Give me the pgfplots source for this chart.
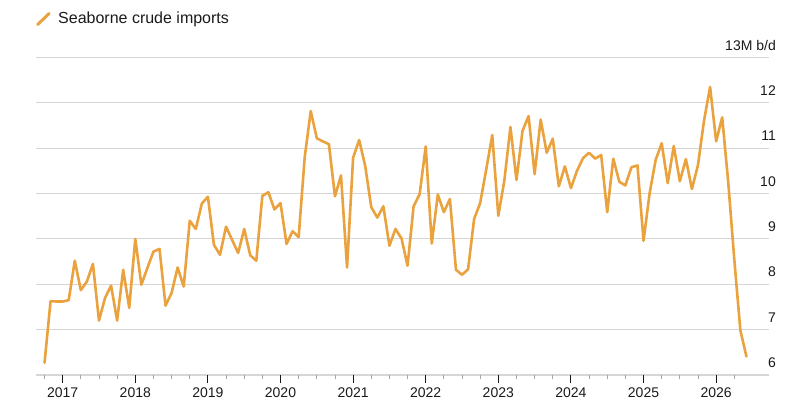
\documentclass[border=0pt]{standalone}
\usepackage{pgfplots}
\pgfplotsset{compat=1.18}
\usepackage{fontspec}
\setmainfont{Liberation Sans}

\definecolor{crude}{RGB}{234,162,62}
\definecolor{gridgray}{RGB}{214,214,214}
\definecolor{txt}{RGB}{26,26,26}

% Monthly seaborne crude imports, million barrels per day.
% x = months since January 2017
\pgfplotstableread{
x    v
-3   6.27
-2   7.63
-1   7.62
0    7.62
1    7.65
2    8.52
3    7.87
4    8.06
5    8.45
6    7.20
7    7.70
8    7.97
9    7.20
10   8.32
11   7.48
12   9.00
13   7.99
14   8.36
15   8.72
16   8.78
17   7.53
18   7.81
19   8.37
20   7.95
21   9.40
22   9.22
23   9.78
24   9.93
25   8.87
26   8.65
27   9.27
28   8.98
29   8.69
30   9.22
31   8.64
32   8.52
33   9.95
34   10.03
35   9.65
36   9.79
37   8.89
38   9.17
39   9.04
40   10.80
41   11.82
42   11.22
43   11.15
44   11.09
45   9.94
46   10.40
47   8.37
48   10.79
49   11.18
50   10.61
51   9.70
52   9.47
53   9.72
54   8.85
55   9.22
56   9.01
57   8.41
58   9.72
59   9.99
60   11.04
61   8.90
62   9.98
63   9.59
64   9.88
65   8.32
66   8.21
67   8.33
68   9.44
69   9.79
70   10.53
71   11.29
72   9.51
73   10.29
74   11.47
75   10.30
76   11.38
77   11.71
78   10.43
79   11.63
80   10.90
81   11.21
82   10.16
83   10.60
84   10.12
85   10.50
86   10.78
87   10.90
88   10.77
89   10.85
90   9.59
91   10.77
92   10.26
93   10.18
94   10.58
95   10.62
96   8.96
97   10.00
98   10.74
99   11.11
100  10.23
101  11.05
102  10.27
103  10.76
104  10.10
105  10.63
106  11.61
107  12.35
108  11.15
109  11.68
110  10.25
111  8.55
112  6.99
113  6.41
}\imports

\begin{document}
\begin{tikzpicture}[x=1bp,y=1bp]
\path[use as bounding box] (0,0) rectangle (800,415);

% legend
\draw[crude, line width=3bp, line cap=round] (37.8,390.5) -- (49,401.5);
\node[anchor=base west, inner sep=0pt, text=txt,
      font=\fontsize{16bp}{19bp}\selectfont] at (58,391.5) {Seaborne crude imports};

\begin{axis}[
  at={(36bp,40bp)}, anchor=south west,
  scale only axis, width=733bp, height=317.5bp,
  xmin=-4.41, xmax=116.74,
  ymin=6, ymax=13,
  axis line style={draw=none},
  clip=false,
  /pgf/number format/assume math mode=true,
  % y axis: labels on the right, sitting on top of the grid lines
  ytick={6,...,13},
  yticklabels={6,7,8,9,10,11,12,13M b/d},
  yticklabel pos=right,
  ytick style={draw=none},
  ymajorgrids,
  grid style={gridgray, line width=1.1bp},
  yticklabel style={anchor=base east, inner sep=0pt, xshift=-1bp, yshift=7.5bp,
                    text=txt, font=\fontsize{14bp}{16bp}\selectfont},
  % x axis: year ticks with quarterly minor ticks
  xtick={0,12,...,108},
  xticklabels={2017,2018,2019,2020,2021,2022,2023,2024,2025,2026},
  minor xtick={-3,3,6,9,15,18,21,27,30,33,39,42,45,51,54,57,63,66,69,75,78,81,87,90,93,99,102,105,111},
  xtick pos=bottom,
  tick align=outside,
  major tick length=8bp,
  minor tick length=4bp,
  xtick style={txt, line width=1bp},
  minor x tick style={gray!70, line width=0.8bp},
  xticklabel style={anchor=base, inner sep=0pt, yshift=-14bp,
                    text=txt, font=\fontsize{14bp}{16bp}\selectfont},
]
\addplot[crude, line width=2.6bp, line join=round, line cap=round] table[x=x, y=v] {\imports};
\end{axis}
\end{tikzpicture}
\end{document}
